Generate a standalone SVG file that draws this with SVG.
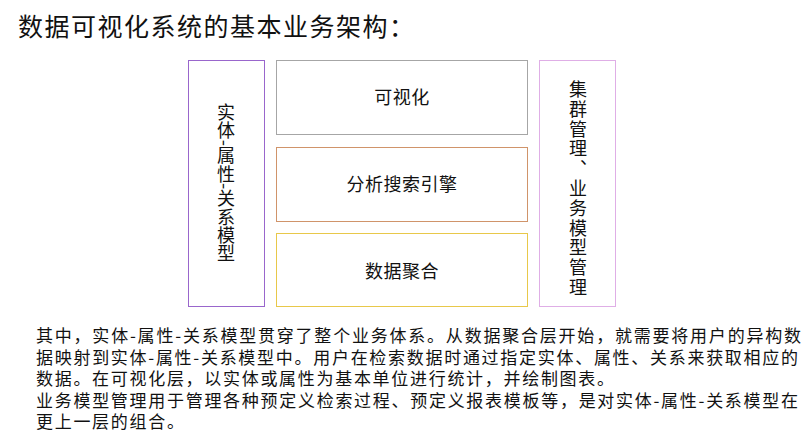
<svg xmlns="http://www.w3.org/2000/svg" width="809" height="443" viewBox="0 0 809 443">
<style>
  text { font-family: "Noto Sans CJK SC", "Noto Sans", sans-serif; fill: #111; }
  .box { fill: #ffffff; stroke-width: 1; }
  .lbl { font-size: 18px; text-anchor: middle; letter-spacing: 0.5px; }
  .vt { font-size: 18px; writing-mode: vertical-rl; text-anchor: middle; }
  .para { font-size: 17px; }
  .title { font-size: 25px; letter-spacing: 1.5px; }
</style>
<rect x="0" y="0" width="809" height="443" fill="#ffffff"/>
<text class="title" x="18" y="36">数据可视化系统的基本业务架构：</text>

<g id="node-entity-model">
  <rect class="box" x="188.5" y="60.5" width="76" height="246" stroke="#9966cc"/>
  <text class="vt" x="226" y="183" style="letter-spacing:0.3px">实体-属性-关系模型</text>
</g>
<g id="node-visualization">
  <rect class="box" x="276.5" y="60.5" width="251" height="74" stroke="#a6a6a6"/>
  <text class="lbl" x="402" y="104">可视化</text>
</g>
<g id="node-search-engine">
  <rect class="box" x="276.5" y="147.5" width="251" height="74" stroke="#d0946a"/>
  <text class="lbl" x="402" y="191">分析搜索引擎</text>
</g>
<g id="node-data-aggregation">
  <rect class="box" x="276.5" y="233.5" width="251" height="73" stroke="#e8c84a"/>
  <text class="lbl" x="402" y="278">数据聚合</text>
</g>
<g id="node-cluster-management">
  <rect class="box" x="539.5" y="60.5" width="76" height="246" stroke="#dfaee6"/>
  <text class="vt" x="578" y="189" style="letter-spacing:1.8px">集群管理、业务模型管理</text>
</g>
<g id="connectors"></g>

<g id="description">
  <text class="para" x="36" y="342" textLength="765" lengthAdjust="spacing">其中，实体-属性-关系模型贯穿了整个业务体系。从数据聚合层开始，就需要将用户的异构数</text>
  <text class="para" x="36" y="363.6" textLength="762" lengthAdjust="spacing">据映射到实体-属性-关系模型中。用户在检索数据时通过指定实体、属性、关系来获取相应的</text>
  <text class="para" x="36" y="385.2" style="letter-spacing:1.7px">数据。在可视化层，以实体或属性为基本单位进行统计，并绘制图表。</text>
  <text class="para" x="36" y="406.8" textLength="762" lengthAdjust="spacing">业务模型管理用于管理各种预定义检索过程、预定义报表模板等，是对实体-属性-关系模型在</text>
  <text class="para" x="36" y="428.4" style="letter-spacing:1.7px">更上一层的组合。</text>
</g>
</svg>
